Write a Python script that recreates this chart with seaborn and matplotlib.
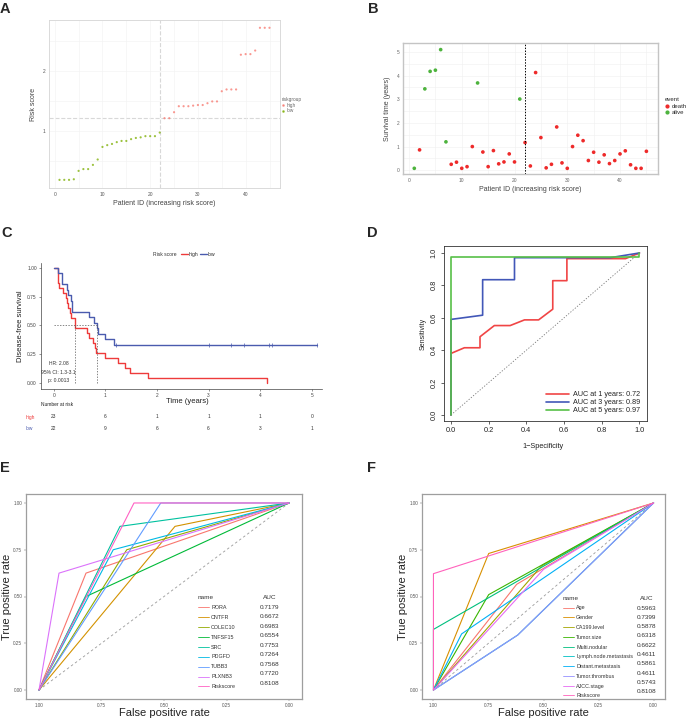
import numpy as np
import pandas as pd
import seaborn as sns
import matplotlib
matplotlib.use("Agg")
import matplotlib.pyplot as plt
import matplotlib.transforms as mtransforms
from matplotlib.lines import Line2D

# ---------------- data ----------------
patient_id = list(range(1, 46))
risk_score = [0.18, 0.18, 0.18, 0.19, 0.33, 0.36, 0.36, 0.43, 0.52, 0.73, 0.76, 0.78, 0.81, 0.83, 0.83,
              0.86, 0.88, 0.89, 0.91, 0.91, 0.91, 0.97,
              1.21, 1.21, 1.31, 1.41, 1.41, 1.41, 1.42, 1.43, 1.43, 1.46, 1.49, 1.49, 1.66, 1.69, 1.69,
              1.69, 2.27, 2.28, 2.28, 2.34, 2.72, 2.72, 2.72]
risk_group = ["low"] * 22 + ["high"] * 23
risk_cut = 1.21
surv_time = [0.08, 0.86, 3.44, 4.18, 4.23, 5.10, 1.20, 0.25, 0.34, 0.08, 0.15, 1.00, 3.69, 0.77, 0.15,
             0.83, 0.27, 0.35, 0.69, 0.35, 3.01, 1.17,
             0.18, 4.13, 1.38, 0.10, 0.25, 1.83, 0.31, 0.08, 1.00, 1.48, 1.25, 0.41, 0.76, 0.34, 0.65,
             0.28, 0.41, 0.69, 0.82, 0.23, 0.08, 0.08, 0.80]
alive_ids = [1, 3, 4, 5, 6, 7, 13, 21]
event = ["alive" if i in alive_ids else "death" for i in patient_id]
hr_text = ["HR: 2.08", "95% CI: 1.3-3.1", "p: 0.0013"]
km_ticks = [0, 1, 2, 3, 4, 5]

roc1_fpr = [0, 0, 0.071, 0.154, 0.154, 0.23, 0.314, 0.39, 0.465, 0.54, 0.54, 0.615, 0.615, 0.926, 1]
roc1_tpr = [0, 0.38, 0.415, 0.415, 0.483, 0.552, 0.552, 0.587, 0.587, 0.653, 0.829, 0.829, 0.965, 0.965, 1]
roc3_fpr = [0, 0, 0.168, 0.168, 0.337, 0.337, 0.846, 1]
roc3_tpr = [0, 0.59, 0.616, 0.835, 0.835, 0.971, 0.971, 1]
roc5_fpr = [0, 0, 1, 1]
roc5_tpr = [0, 0.975, 0.975, 1]
roc_labels = ["AUC at 1 years: 0.72", "AUC at 3 years: 0.89", "AUC at 5 years: 0.97"]

gene_names = ["RORA", "CNTFR", "COLEC10", "TNFSF15", "SRC", "PDGFD", "TUBB3", "PLXNB3", "Riskscore"]
gene_auc = ["0.7179", "0.6672", "0.6983", "0.6554", "0.7753", "0.7264", "0.7568", "0.7720", "0.8108"]
gene_mid_spec = [0.812, 0.456, 0.649, 0.812, 0.676, 0.703, 0.513, 0.92, 0.62]
gene_mid_tpr = [0.625, 0.875, 0.75, 0.50, 0.875, 0.75, 1.0, 0.625, 1.0]
gene_colors = ["#F8766D", "#D39200", "#93AA00", "#00BA38", "#00C19F", "#00B9E3", "#619CFF", "#DB72FB", "#FF61C3"]

clin_names = ["Age", "Gender", "CA199.level", "Tumor.size", "Multi.nodular", "Lymph.node.metastasis",
              "Distant.metastasis", "Tumor.thrombus", "AJCC.stage", "Riskscore"]
clin_auc = ["0.5963", "0.7399", "0.5878", "0.6318", "0.6622", "0.4611", "0.5861", "0.4611", "0.5743", "0.8108"]
clin_mid_spec = [0.622, 0.749, 0.509, 0.749, 1.0, 0.617, 0.872, 0.617, 0.50, 1.0]
clin_mid_tpr = [0.565, 0.73, 0.663, 0.51, 0.324, 0.294, 0.30, 0.294, 0.645, 0.622]
clin_colors = ["#F8766D", "#D89000", "#A3A500", "#39B600", "#00BF7D", "#00BFC4", "#00B0F6", "#9590FF",
               "#E76BF3", "#FF62BC"]

sns.set_theme(style="white")
plt.rcParams["font.family"] = ["Liberation Sans", "DejaVu Sans"]

fig = plt.figure(figsize=(6.9, 7.2), dpi=100)


def box(l, t, r, b):
    return fig.add_axes([l / 690, 1 - b / 720, (r - l) / 690, (b - t) / 720])


def fx(x):
    return x / 690


def fy(y):
    return 1 - y / 720


def km(times, events):
    times = np.array(times)
    dead = np.array(events) == "death"
    xs, ys, s = [0.0], [1.0], 1.0
    for t in np.unique(times):
        d = np.sum((times == t) & dead)
        n = np.sum(times >= t)
        if d > 0:
            s *= 1 - d / n
            xs.append(t)
            ys.append(s)
    if xs[-1] < times.max():
        xs.append(times.max())
        ys.append(s)
    return np.array(xs), np.array(ys)


dfp = pd.DataFrame({"id": patient_id, "score": risk_score, "group": risk_group,
                    "time": surv_time, "event": event})

# ---------------- A ----------------
axA = box(49, 20, 280, 188)
sns.scatterplot(data=dfp, x="id", y="score", hue="group", palette={"high": "#F8766D", "low": "#7CAE00"},
                s=2.5, linewidth=0, alpha=0.75, ax=axA, legend=False)
axA.axhline(risk_cut, color="#D8D8D8", lw=0.8, ls="--", zorder=0)
axA.axvline(22, color="#D8D8D8", lw=0.8, ls="--", zorder=0)
axA.set_xlim(-1.2, 47.2)
axA.set_ylim(0.044, 2.85)
axA.set_xticks([0, 10, 20, 30, 40])
axA.set_yticks([1, 2])
axA.set_xticks([5, 15, 25, 35, 45], minor=True)
axA.set_yticks([0.5, 1.5, 2.5], minor=True)
axA.grid(True, which="both", color="#F2F2F2", lw=0.4)
axA.tick_params(labelsize=3.5, colors="#555555", length=1.2, width=0.3, pad=1.5)
for sp in axA.spines.values():
    sp.set_color("#D5D5D5")
    sp.set_linewidth(0.6)
axA.set_xlabel("Patient ID (increasing risk score)", fontsize=5, color="#444444", labelpad=1)
axA.set_ylabel("Risk score", fontsize=5, color="#444444", labelpad=1)
legA = axA.legend(handles=[Line2D([], [], marker="o", ls="", ms=0.9, color="#F8766D", alpha=0.7),
                           Line2D([], [], marker="o", ls="", ms=0.9, color="#7CAE00", alpha=0.7)],
                  labels=["high", "low"], title="riskgroup", fontsize=3.4, title_fontsize=3.4,
                  frameon=False, loc="upper left", bbox_to_anchor=(fx(279), fy(95)),
                  bbox_transform=fig.transFigure, handlelength=0.8, handletextpad=0.3,
                  labelspacing=0.1, borderpad=0)
legA._legend_box.align = "left"
for t in legA.get_texts() + [legA.get_title()]:
    t.set_color("#666666")

# ---------------- B ----------------
axB = box(403, 43, 658, 174)
sns.scatterplot(data=dfp, x="id", y="time", hue="event", hue_order=["death", "alive"],
                palette={"death": "#EE2A2A", "alive": "#4DB33D"}, s=7, linewidth=0, ax=axB, legend=False)
axB.axvline(22, color="black", lw=0.7, ls=(0, (1.5, 1.5)))
axB.set_xlim(-1.14, 47.2)
axB.set_ylim(-0.16, 5.38)
axB.set_xticks([0, 10, 20, 30, 40])
axB.set_yticks([0, 1, 2, 3, 4, 5])
axB.set_xticks([5, 15, 25, 35, 45], minor=True)
axB.set_yticks([0.5, 1.5, 2.5, 3.5, 4.5], minor=True)
axB.grid(True, which="both", color="#F0F0F0", lw=0.4)
axB.tick_params(labelsize=3.5, colors="#666666", length=1.2, width=0.3, pad=1.5)
for sp in axB.spines.values():
    sp.set_color("#C4C4C4")
    sp.set_linewidth(1.0)
axB.set_xlabel("Patient ID (increasing risk score)", fontsize=5, color="#444444", labelpad=1)
axB.set_ylabel("Survival time (years)", fontsize=5, color="#444444", labelpad=1)
legB = axB.legend(handles=[Line2D([], [], marker="o", ls="", ms=2, color="#EE2A2A"),
                           Line2D([], [], marker="o", ls="", ms=2, color="#4DB33D")],
                  labels=["death", "alive"], title="event", fontsize=4.3, title_fontsize=4.3,
                  frameon=False, loc="upper left", bbox_to_anchor=(fx(662), fy(94)),
                  bbox_transform=fig.transFigure, handlelength=0.8, handletextpad=0.3,
                  labelspacing=0.25, borderpad=0)
legB._legend_box.align = "left"

# ---------------- C ----------------
axC = box(41, 263, 322, 389)
col_high, col_low = "#EE3B3B", "#4A5BAE"
groups = {}
for g, col in [("high", col_high), ("low", col_low)]:
    sub = dfp[dfp.group == g]
    xs, ys = km(sub.time.values, sub.event.values)
    groups[g] = (sub, xs, ys)
    sns.lineplot(x=xs, y=ys, drawstyle="steps-post", estimator=None, color=col, lw=1.0, ax=axC)
    cens = sub[sub.event == "alive"].time.values
    if len(cens):
        idx = np.searchsorted(xs, cens, side="right") - 1
        sns.scatterplot(x=cens, y=ys[idx], marker="|", s=8, color=col, linewidth=0.5, ax=axC, legend=False)
med = {}
for g in groups:
    _, xs, ys = groups[g]
    med[g] = xs[np.argmax(ys <= 0.5)]
axC.plot([0, max(med.values())], [0.5, 0.5], color="#555555", lw=0.5, ls=(0, (2, 2)))
for g in med:
    axC.plot([med[g], med[g]], [0, 0.5], color="#555555", lw=0.5, ls=(0, (2, 2)))
for i, txt in enumerate(hr_text):
    axC.text(0.09, [0.171, 0.09, 0.02][i], txt, fontsize=3.6, ha="center", va="center", color="#333333")
axC.set_xlim(-0.25, 5.2)
axC.set_ylim(-0.052, 1.043)
axC.set_xticks(km_ticks)
axC.set_yticks([0, 0.25, 0.5, 0.75, 1.0])
axC.set_yticklabels(["0.00", "0.25", "0.50", "0.75", "1.00"])
sns.despine(ax=axC)
for sp in ["left", "bottom"]:
    axC.spines[sp].set_color("#444444")
    axC.spines[sp].set_linewidth(0.5)
axC.tick_params(labelsize=3.5, colors="#444444", length=1.5, width=0.4, pad=1.5, left=True, bottom=True)
axC.set_xlabel("Time (years)", fontsize=5.5, color="#222222")
axC.xaxis.set_label_coords(0.52, -0.075)
axC.xaxis.label.set_va("top")
axC.set_ylabel("Disease-free survival", fontsize=5.5, color="#222222", labelpad=2)
fig.text(fx(153), fy(254), "Risk score", fontsize=3.6, va="center", color="#333333")
axC.legend(handles=[Line2D([], [], color=col_high, lw=1), Line2D([], [], color=col_low, lw=1)],
           labels=["high", "low"], ncol=2, fontsize=3.6, frameon=False, loc="center left",
           bbox_to_anchor=(fx(178), fy(254)), bbox_transform=fig.transFigure, handlelength=1.4,
           handletextpad=0.2, columnspacing=0.3, borderpad=0)

# risk table: rows placed at pixel heights 416 / 429
axT = box(41, 406, 322, 436)
axT.set_xlim(-0.25, 5.2)
axT.set_ylim(436, 406)
axT.axis("off")
fig.text(fx(41), fy(405), "Number at risk", fontsize=3.5, va="center", color="#222222")
lab_tr = mtransforms.blended_transform_factory(fig.transFigure, axT.transData)
for row, g, col in [(417, "high", col_high), (429, "low", col_low)]:
    sub = groups[g][0]
    axT.text(fx(26), row, g, transform=lab_tr, fontsize=3.5, color=col, va="center")
    for t in km_ticks:
        axT.text(t, row, str(int((sub.time >= t).sum())), fontsize=3.5, ha="center", va="center",
                 color="#333333")

# ---------------- D ----------------
axD = box(444, 246, 647, 421)
sns.lineplot(x=[0, 1], y=[0, 1], color="#777777", lw=0.6, ls=(0, (1.5, 2)), ax=axD)
for fpr, tpr, col, lab in [(roc1_fpr, roc1_tpr, "#F04545", roc_labels[0]),
                           (roc3_fpr, roc3_tpr, "#4257B8", roc_labels[1]),
                           (roc5_fpr, roc5_tpr, "#58C048", roc_labels[2])]:
    sns.lineplot(x=fpr, y=tpr, sort=False, estimator=None, color=col, lw=1.2, ax=axD, label=lab)
axD.set_xlim(-0.037, 1.04)
axD.set_ylim(-0.037, 1.043)
axD.set_xticks(np.arange(0, 1.01, 0.2))
axD.set_yticks(np.arange(0, 1.01, 0.2))
axD.set_xticklabels(["0.0", "0.2", "0.4", "0.6", "0.8", "1.0"])
axD.set_yticklabels(["0.0", "0.2", "0.4", "0.6", "0.8", "1.0"], rotation=90, va="center")
for sp in axD.spines.values():
    sp.set_color("#333333")
    sp.set_linewidth(0.6)
axD.tick_params(labelsize=5.3, colors="#222222", length=2.5, width=0.5, pad=2, left=True, bottom=True)
axD.set_ylabel("Sensitivity", fontsize=5, color="#222222", labelpad=3)
fig.text(fx(543), fy(446), "1\u2212Specificity", fontsize=5.3, ha="center", va="center", color="#222222")
axD.legend(loc="lower right", fontsize=5.2, frameon=False, handlelength=3.2, handletextpad=0.6,
           labelspacing=0.15, borderaxespad=0.5)


# ---------------- E / F ----------------
def spacing_for(pitch_px, fs_pt):
    fs_px = fs_pt * 100 / 72
    return pitch_px / fs_px - 0.948


def roc_panel(rect, names, aucs, mid_spec, mid_tpr, colors, leg_x, auc_x, leg_y, pitch):
    ax = box(*rect)
    rows = []
    for n, ms, mt in zip(names, mid_spec, mid_tpr):
        rows += [(n, 1.0, 0.0, 0), (n, ms, mt, 1), (n, 0.0, 1.0, 2)]
    df = pd.DataFrame(rows, columns=["name", "spec", "tpr", "step"])
    ax.plot([1, 0], [0, 1], color="#9A9A9A", lw=0.6, ls=(0, (3, 3)))
    sns.lineplot(data=df, x="spec", y="tpr", hue="name", hue_order=names, palette=colors, sort=False,
                 estimator=None, units="name", lw=0.8, ax=ax, legend=False)
    ax.set_xlim(1.052, -0.052)
    ax.set_ylim(-0.048, 1.048)
    ax.set_xticks([1, 0.75, 0.5, 0.25, 0])
    ax.set_xticklabels(["1.00", "0.75", "0.50", "0.25", "0.00"])
    ax.set_yticks([0, 0.25, 0.5, 0.75, 1])
    ax.set_yticklabels(["0.00", "0.25", "0.50", "0.75", "1.00"])
    for sp in ax.spines.values():
        sp.set_color("#9E9E9E")
        sp.set_linewidth(0.9)
    ax.tick_params(labelsize=3.3, colors="#555555", length=1.2, width=0.3, pad=1.5, left=True, bottom=True)
    ax.set_xlabel("False positive rate", fontsize=8, color="#222222", labelpad=0)
    ax.set_ylabel("True positive rate", fontsize=8, color="#222222", labelpad=1)
    h = [Line2D([], [], color=c, lw=0.6) for c in colors]
    l1 = ax.legend(handles=h, labels=names, title="name", fontsize=3.9, title_fontsize=4.6, frameon=False,
                   loc="upper left", bbox_to_anchor=(fx(leg_x), fy(leg_y)), bbox_transform=fig.transFigure,
                   handlelength=2.0, handletextpad=0.5, labelspacing=spacing_for(pitch, 3.9), borderpad=0)
    l1._legend_box.align = "left"
    for t in l1.get_texts() + [l1.get_title()]:
        t.set_color("#333333")
    ax.add_artist(l1)
    h2 = [Line2D([], [], alpha=0) for _ in names]
    l2 = ax.legend(handles=h2, labels=aucs, title="AUC", fontsize=4.6, title_fontsize=4.6, frameon=False,
                   loc="upper left", bbox_to_anchor=(fx(auc_x), fy(leg_y)), bbox_transform=fig.transFigure,
                   handlelength=0, handletextpad=0, labelspacing=spacing_for(pitch, 4.6), borderpad=0)
    for t in l2.get_texts() + [l2.get_title()]:
        t.set_color("#333333")
    return ax


roc_panel((26, 494, 302, 699), gene_names, gene_auc, gene_mid_spec, gene_mid_tpr, gene_colors,
          195, 257, 592, 10.1)
roc_panel((422, 494, 665, 699), clin_names, clin_auc, clin_mid_spec, clin_mid_tpr, clin_colors,
          560, 634, 593, 9.9)

# panel letters
for lab, x, y in [("A", 0, 9), ("B", 368, 9), ("C", 1, 233), ("D", 367, 233), ("E", 0, 468), ("F", 367, 468)]:
    fig.text(fx(x), fy(y), lab, fontsize=10.5, fontweight="bold", va="center", ha="left")

fig.savefig("out.png", dpi=100)
